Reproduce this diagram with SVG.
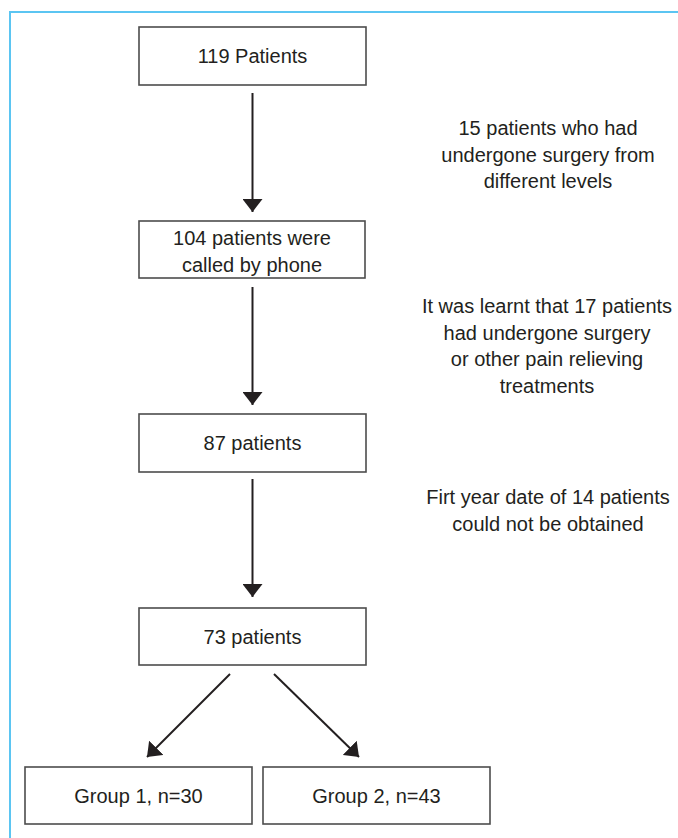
<svg xmlns="http://www.w3.org/2000/svg" width="678" height="838" viewBox="0 0 678 838">
<style>
  .box { fill: #ffffff; stroke: #4d4d4d; stroke-width: 1.6; }
  .t { font-family: "Liberation Sans", Arial, sans-serif; font-size: 20px; fill: #231f20; text-anchor: middle; }
  .conn { stroke: #231f20; stroke-width: 2; fill: none; marker-end: url(#ah); }
  .frame { stroke: #5bc5f2; stroke-width: 2; fill: none; }
</style>
<defs>
  <marker id="ah" viewBox="0 0 13 20" refX="13" refY="10" markerWidth="13" markerHeight="20" markerUnits="userSpaceOnUse" orient="auto">
    <path d="M0,0 L13,10 L0,20 Z" fill="#231f20"/>
  </marker>
</defs>
<rect x="0" y="0" width="678" height="838" fill="#ffffff"/>
<path class="frame" d="M10,838 L10,12 L678,12"/>

<g id="connectors">
  <line class="conn" x1="252.5" y1="93" x2="252.5" y2="212"/>
  <line class="conn" x1="252.5" y1="287" x2="252.5" y2="405"/>
  <line class="conn" x1="252.5" y1="479" x2="252.5" y2="597"/>
  <line class="conn" x1="230" y1="674" x2="147" y2="757"/>
  <line class="conn" x1="274" y1="674" x2="359" y2="757"/>
</g>

<g id="node-119">
  <rect class="box" x="139" y="27" width="227" height="58"/>
  <text class="t" x="252.5" y="63">119 Patients</text>
</g>
<g id="node-104">
  <rect class="box" x="139" y="221" width="226" height="57"/>
  <text class="t" x="252" y="245">104 patients were</text>
  <text class="t" x="252" y="272">called by phone</text>
</g>
<g id="node-87">
  <rect class="box" x="139" y="414" width="227" height="58"/>
  <text class="t" x="252.5" y="450">87 patients</text>
</g>
<g id="node-73">
  <rect class="box" x="139" y="608" width="227" height="57"/>
  <text class="t" x="252.5" y="644">73 patients</text>
</g>
<g id="node-group1">
  <rect class="box" x="25" y="767" width="227" height="57"/>
  <text class="t" x="138.5" y="803">Group 1, n=30</text>
</g>
<g id="node-group2">
  <rect class="box" x="263" y="767" width="227" height="57"/>
  <text class="t" x="376.5" y="803">Group 2, n=43</text>
</g>

<g id="label-1">
  <text class="t" x="548" y="135">15 patients who had</text>
  <text class="t" x="548" y="161.5">undergone surgery from</text>
  <text class="t" x="548" y="188">different levels</text>
</g>
<g id="label-2">
  <text class="t" x="547" y="313">It was learnt that 17 patients</text>
  <text class="t" x="547" y="339.5">had undergone surgery</text>
  <text class="t" x="547" y="366">or other pain relieving</text>
  <text class="t" x="547" y="392.5">treatments</text>
</g>
<g id="label-3">
  <text class="t" x="548" y="504">Firt year date of 14 patients</text>
  <text class="t" x="548" y="530.5">could not be obtained</text>
</g>
</svg>
